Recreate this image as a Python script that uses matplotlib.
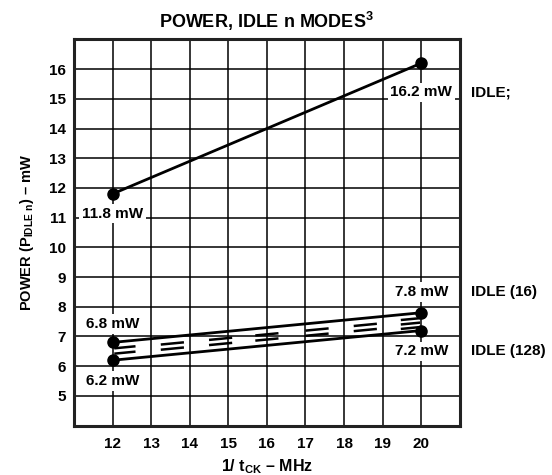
import matplotlib
matplotlib.use("Agg")
import matplotlib.pyplot as plt
import numpy as np

plt.rcParams["font.family"] = ["Liberation Sans", "DejaVu Sans"]
plt.rcParams["font.weight"] = "bold"
plt.rcParams["mathtext.fontset"] = "custom"
plt.rcParams["mathtext.rm"] = "Liberation Sans:bold"
plt.rcParams["mathtext.it"] = "Liberation Sans:bold"
plt.rcParams["mathtext.bf"] = "Liberation Sans:bold"
plt.rcParams["mathtext.default"] = "rm"

# Data
freq_mhz = [12, 20]
idle_semi = [11.8, 16.2]      # IDLE;
idle_16 = [6.8, 7.8]          # IDLE (16)
idle_128 = [6.2, 7.2]         # IDLE (128)
x_ticks = [12, 13, 14, 15, 16, 17, 18, 19, 20]
y_ticks = [5, 6, 7, 8, 9, 10, 11, 12, 13, 14, 15, 16]

fig = plt.figure(figsize=(5.52, 4.75), dpi=100)
ax = fig.add_axes([0.134, 0.104, 0.699, 0.813])

ax.set_xlim(11, 21)
ax.set_ylim(4, 17)

# full grid, one line per unit
for gx in range(11, 22):
    ax.axvline(gx, color="black", lw=1.1, zorder=1)
for gy in range(4, 18):
    ax.axhline(gy, color="black", lw=1.1, zorder=1)

ax.set_xticks(x_ticks)
ax.set_yticks(y_ticks)
ax.tick_params(axis="x", length=0, labelsize=11, pad=8)
ax.tick_params(axis="y", length=0, labelsize=11, pad=6)
for lbl in ax.get_xticklabels() + ax.get_yticklabels():
    lbl.set_fontweight("bold")
for sp in ax.spines.values():
    sp.set_linewidth(2.2)
    sp.set_color("#222222")
    sp.set_zorder(5)

line_kw = dict(color="black", lw=2.0, marker="o", markersize=8, zorder=4,
               solid_capstyle="round")
ax.plot(freq_mhz, idle_semi, **line_kw)
ax.plot(freq_mhz, idle_16, **line_kw)
ax.plot(freq_mhz, idle_128, **line_kw)

# double-dash fill between the two low-power lines
x0, x1 = freq_mhz
def band(x, frac):
    t = (x - x0) / (x1 - x0)
    lo = idle_128[0] + t * (idle_128[1] - idle_128[0])
    hi = idle_16[0] + t * (idle_16[1] - idle_16[0])
    return lo + frac * (hi - lo)

groups = [(12.32, 0.55, [0.36, 0.66]), (13.55, 0.6, [0.33, 0.62]),
          (14.8, 0.6, [0.33, 0.62]), (16.0, 0.6, [0.33, 0.62]),
          (17.3, 0.6, [0.33, 0.62]), (18.55, 0.6, [0.33, 0.62]),
          (19.72, 0.5, [0.2, 0.45, 0.7])]
for cx, ln, fracs in groups:
    xs = np.array([cx - ln / 2, cx + ln / 2])
    for f in fracs:
        ax.plot(xs, [band(xs[0], f), band(xs[1], f)], color="black", lw=1.8,
                zorder=3, solid_capstyle="butt")

box = dict(facecolor="white", edgecolor="none", pad=2.0)
lab_kw = dict(fontsize=11, fontweight="bold", ha="center", va="center",
              bbox=box, zorder=6)
ax.text(20, 15.22, f"{idle_semi[1]} mW", **lab_kw)
ax.text(12, 11.14, f"{idle_semi[0]} mW", **lab_kw)
ax.text(12, 7.42, f"{idle_16[0]} mW", **lab_kw)
ax.text(12, 5.5, f"{idle_128[0]} mW", **lab_kw)
ax.text(20, 8.49, f"{idle_16[1]} mW", **lab_kw)
ax.text(20, 6.5, f"{idle_128[1]} mW", **lab_kw)

side_kw = dict(fontsize=11, fontweight="bold", ha="left", va="center",
               transform=ax.get_yaxis_transform(), clip_on=False)
ax.text(1.03, 15.22, "IDLE;", **side_kw)
ax.text(1.03, 8.49, "IDLE (16)", **side_kw)
ax.text(1.03, 6.5, "IDLE (128)", **side_kw)

ax.set_title(r"POWER, IDLE n MODES$^{3}$", fontsize=13, fontweight="bold",
             pad=8)
ax.set_xlabel(r"1/ t$_{\mathrm{CK}}$ – MHz", fontsize=11.5, fontweight="bold",
              labelpad=5)
ax.set_ylabel(r"POWER (P$_{\mathrm{IDLE\ n}}$) – mW", fontsize=10.5,
              fontweight="bold", labelpad=9)

fig.savefig("out.png", dpi=100, facecolor="white")
